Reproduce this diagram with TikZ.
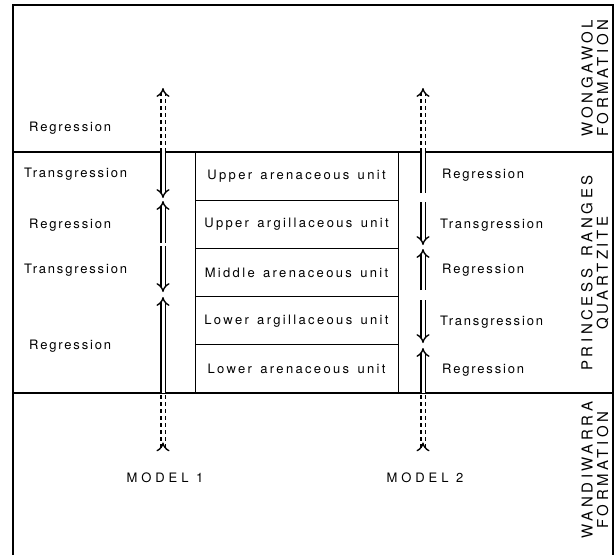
\documentclass[tikz,border=0pt]{standalone}
\usepackage{fontspec}
\setmainfont{TeX Gyre Heros}
\newfontfamily\labelfont{TeX Gyre Heros}[LetterSpace=14]
\newfontfamily\unitfont{TeX Gyre Heros}[LetterSpace=18, WordSpace=1.4]
\newfontfamily\capsfont{TeX Gyre Heros}[LetterSpace=30]
\newfontfamily\formfont{TeX Gyre Heros}[LetterSpace=24, WordSpace=1.6]
\usetikzlibrary{arrows.meta}
\begin{document}
\begin{tikzpicture}[x=1pt,y=-1pt,
  frame/.style={line width=1.2pt},
  unitbox/.style={draw, line width=1pt, minimum width=203pt, minimum height=48.2pt,
    inner sep=0pt, outer sep=0pt, font=\unitfont\fontsize{13}{15}\selectfont},
  lbl/.style={font=\labelfont\fontsize{13}{15}\selectfont, inner sep=0pt},
  fmn/.style={font=\formfont\fontsize{15}{15.5}\selectfont, align=center, rotate=90, inner sep=0pt},
  modeltext/.style={font=\capsfont\fontsize{13}{13}\selectfont, inner sep=0pt},
  move/.style={double, double distance=3pt, line width=1.4pt},
  broken/.style={move, dash pattern=on 4pt off 3pt},
  head/.style={-{Implies[length=7pt,width=15pt]}},
  tail/.style={{Implies[length=7pt,width=15pt,reversed]}-}
]
\useasboundingbox (0,0) rectangle (616,555);

% outer frame and formation boundaries
\draw[frame] (13,555) -- (13,5) -- (613,5) -- (613,555);
\draw[frame] (13,152) -- (613,152);
\draw[frame] (13,393) -- (613,393);

% lithological units of the Princess Ranges Quartzite
\node[unitbox] (u1) at (296.5,176.1) {Upper arenaceous unit};
\node[unitbox, anchor=north] (u2) at (u1.south) {Upper argillaceous unit};
\node[unitbox, anchor=north] (u3) at (u2.south) {Middle arenaceous unit};
\node[unitbox, anchor=north] (u4) at (u3.south) {Lower argillaceous unit};
\node[unitbox, anchor=north] (u5) at (u4.south) {Lower arenaceous unit};

% formation names
\node[fmn] (wong) at (595,78) {WONGAWOL\\FORMATION};
\node[fmn] (prin) at (595,273) {PRINCESS RANGES\\QUARTZITE};
\node[fmn] (wand) at (595,470) {WANDIWARRA\\FORMATION};

% model 1 labels
\node[lbl, anchor=west] (l0) at (29,128) {Regression};
\node[lbl, anchor=west] (l1) at (24,174) {Transgression};
\node[lbl, anchor=west] (l2) at (29,225) {Regression};
\node[lbl, anchor=west] (l3) at (24,270) {Transgression};
\node[lbl, anchor=west] (l4) at (29,346) {Regression};

% model 2 labels
\node[lbl, anchor=west] (r1) at (442,175) {Regression};
\node[lbl, anchor=west] (r2) at (440,225) {Transgression};
\node[lbl, anchor=west] (r3) at (442,270) {Regression};
\node[lbl, anchor=west] (r4) at (440,322) {Transgression};
\node[lbl, anchor=west] (r5) at (442,370) {Regression};

\node[modeltext] (mod1) at (165,478) {MODEL 1};
\node[modeltext] (mod2) at (425,478) {MODEL 2};

% model 1 arrow positions
\coordinate (a0) at (163,88);
\coordinate (a1) at (163,152);
\coordinate (a2) at (163,198);
\coordinate (a3) at (163,201);
\coordinate (a4) at (163,243);
\coordinate (a5) at (163,246);
\coordinate (a6) at (163,292);
\coordinate (a7) at (163,297);
\coordinate (a8) at (163,393);
\coordinate (a9) at (163,450);

% model 2 arrow positions
\coordinate (b0) at (423,88);
\coordinate (b1) at (423,152);
\coordinate (b2) at (423,193);
\coordinate (b3) at (423,202);
\coordinate (b4) at (423,245);
\coordinate (b5) at (423,249);
\coordinate (b6) at (423,290);
\coordinate (b7) at (423,300);
\coordinate (b8) at (423,343);
\coordinate (b9) at (423,348);
\coordinate (b10) at (423,393);
\coordinate (b11) at (423,450);

% model 1 movements
\draw[broken, head] (a1) -- (a0);
\draw[move, head] (a1) -- (a2);
\draw[move, head] (a4) -- (a3);
\draw[move, head] (a5) -- (a6);
\draw[move, head] (a8) -- (a7);
\draw[broken, tail] (a9) -- (a8);

% model 2 movements
\draw[broken, head] (b1) -- (b0);
\draw[move] (b2) -- (b1);
\draw[move, head] (b3) -- (b4);
\draw[move, head] (b6) -- (b5);
\draw[move, head] (b7) -- (b8);
\draw[move, head] (b10) -- (b9);
\draw[broken, tail] (b11) -- (b10);
\end{tikzpicture}
\end{document}
